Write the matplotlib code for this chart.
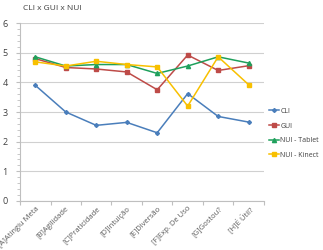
import matplotlib.pyplot as plt
from matplotlib.ticker import MultipleLocator

categories = ["[A]Atingiu Meta", "[B]Agilidade", "[C]Praticidade", "[D]Intuição",
              "[E]Diversão", "[F]Exp. De Uso", "[G]Gostou?", "[H]É Útil?"]
cli = [3.9, 3.0, 2.55, 2.65, 2.3, 3.62, 2.85, 2.66]
gui = [4.8, 4.5, 4.45, 4.35, 3.75, 4.92, 4.4, 4.56]
nui_tablet = [4.86, 4.55, 4.6, 4.6, 4.3, 4.55, 4.86, 4.65]
nui_kinect = [4.69, 4.55, 4.71, 4.6, 4.52, 3.2, 4.86, 3.92]

plt.rcParams['font.family'] = ['Open Sans', 'DejaVu Sans']

fig = plt.figure(figsize=(3.23, 2.5), dpi=100)
ax = fig.add_axes([0.062, 0.196, 0.755, 0.712])

x = range(len(categories))
ax.plot(x, cli, marker='D', markersize=2, lw=1.1, color='#4A7EBB', label='CLI')
ax.plot(x, gui, marker='s', markersize=2.5, lw=1.1, color='#BE4B48', label='GUI')
ax.plot(x, nui_tablet, marker='^', markersize=3, lw=1.1, color='#1FA05C', label='NUI - Tablet')
ax.plot(x, nui_kinect, marker='s', markersize=3.5, lw=1.1, color='#F8C000', label='NUI - Kinect')

ax.set_xlim(-0.5, len(categories) - 0.5)
ax.set_ylim(0, 6)
ax.yaxis.set_major_locator(MultipleLocator(1))
ax.yaxis.set_minor_locator(MultipleLocator(0.2))
ax.grid(axis='y', color='#D0D0D0', lw=0.8)
ax.set_axisbelow(True)
for s in ['top', 'right']:
    ax.spines[s].set_visible(False)
ax.spines['left'].set_color('#BFBFBF')
ax.spines['bottom'].set_color('#BFBFBF')

ax.set_xticks([i - 0.5 for i in range(len(categories) + 1)], minor=False)
ax.set_xticklabels([])
ax.set_xticks(list(x), minor=True)
ax.set_xticklabels(categories, minor=True, rotation=45, ha='right', rotation_mode='anchor',
                   fontsize=5.5, color='#595959')
ax.tick_params(axis='x', which='major', length=3, color='#BFBFBF')
ax.tick_params(axis='x', which='minor', length=0, pad=3)
ax.tick_params(axis='y', which='major', length=3, color='#BFBFBF', labelsize=6.5, labelcolor='#404040', pad=6)
ax.tick_params(axis='y', which='minor', length=2, color='#BFBFBF')

ax.legend(loc='center left', bbox_to_anchor=(1.02, 0.38), frameon=False, fontsize=5,
          handlelength=1.5, labelspacing=1.1, handletextpad=0.15, borderpad=0,
          borderaxespad=0, labelcolor='#404040')

fig.text(0.072, 0.968, 'CLI x GUI x NUI', fontsize=6, color='#404040', va='center')

fig.savefig('out.png', dpi=100)
